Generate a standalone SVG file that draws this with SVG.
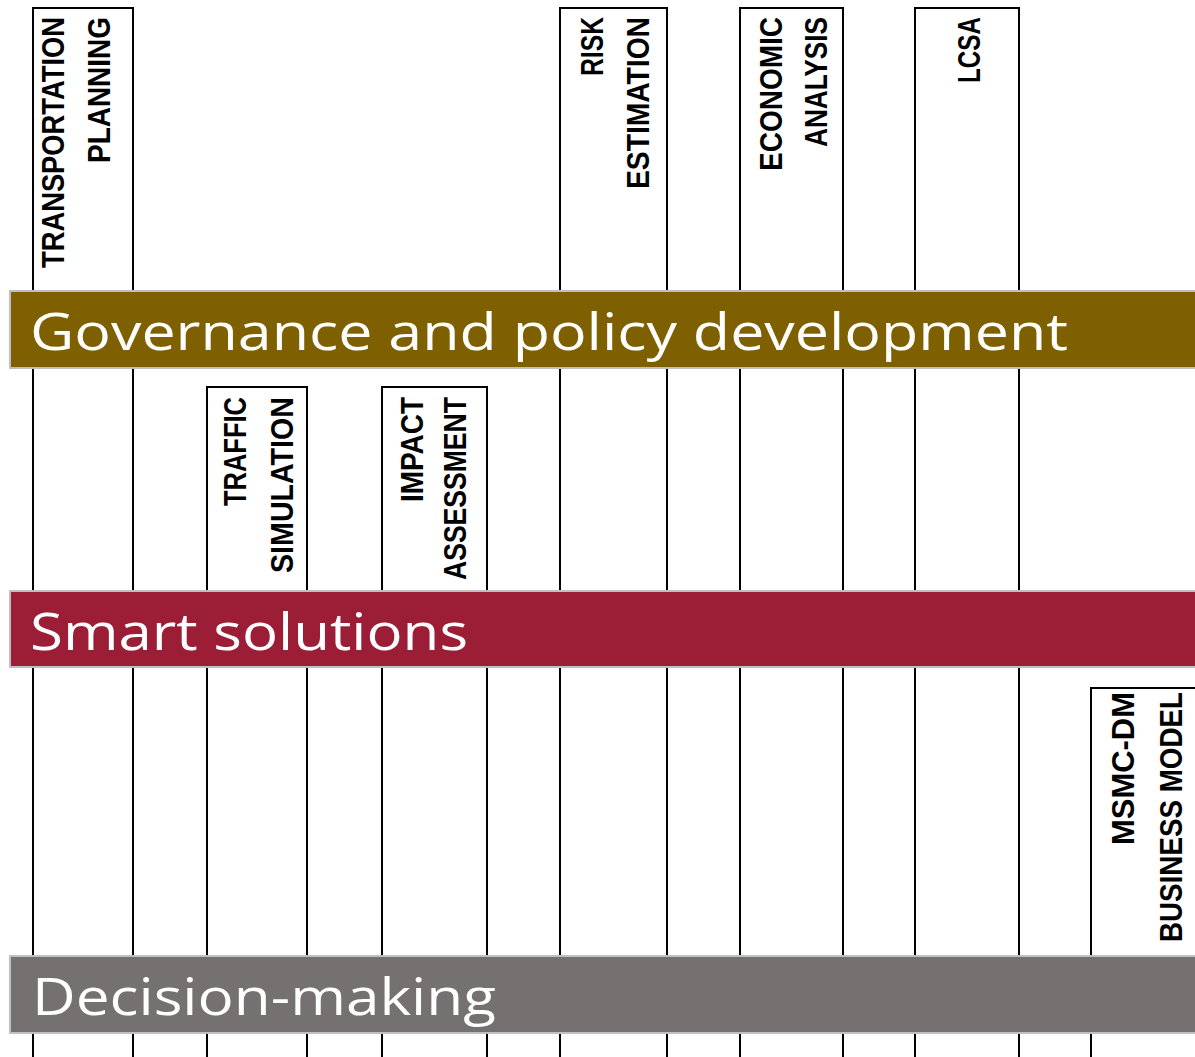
<svg xmlns="http://www.w3.org/2000/svg" width="1195" height="1057" viewBox="0 0 1195 1057">
<style>
.box{fill:#fff;stroke:#000;stroke-width:2}
.lbl{font-family:"Liberation Sans",Arial,sans-serif;font-weight:700;font-size:31px;fill:#000;text-anchor:end}
.bar{stroke:#c0c0c0;stroke-width:2}
.btxt{font-family:"Open Sans","Liberation Sans",sans-serif;font-size:52px;fill:#fff}
</style>
<rect width="1195" height="1057" fill="#fff"/>
<g id="node-transportation-planning">
<rect class="box" x="33" y="8" width="100" height="1070"/>
<text class="lbl" transform="translate(64,17) rotate(-90)" textLength="251" lengthAdjust="spacingAndGlyphs">TRANSPORTATION</text>
<text class="lbl" transform="translate(110,17) rotate(-90)" textLength="146" lengthAdjust="spacingAndGlyphs">PLANNING</text>
</g>
<g id="node-traffic-simulation">
<rect class="box" x="207" y="387" width="100" height="700"/>
<text class="lbl" transform="translate(246,397) rotate(-90)" textLength="109" lengthAdjust="spacingAndGlyphs">TRAFFIC</text>
<text class="lbl" transform="translate(293,397) rotate(-90)" textLength="176" lengthAdjust="spacingAndGlyphs">SIMULATION</text>
</g>
<g id="node-impact-assessment">
<rect class="box" x="382" y="387" width="105" height="700"/>
<text class="lbl" transform="translate(423,397) rotate(-90)" textLength="105" lengthAdjust="spacingAndGlyphs">IMPACT</text>
<text class="lbl" transform="translate(466,397) rotate(-90)" textLength="183" lengthAdjust="spacingAndGlyphs">ASSESSMENT</text>
</g>
<g id="node-risk-estimation">
<rect class="box" x="560" y="8" width="107" height="1070"/>
<text class="lbl" transform="translate(603,17) rotate(-90)" textLength="59" lengthAdjust="spacingAndGlyphs">RISK</text>
<text class="lbl" transform="translate(649,17) rotate(-90)" textLength="172" lengthAdjust="spacingAndGlyphs">ESTIMATION</text>
</g>
<g id="node-economic-analysis">
<rect class="box" x="740" y="8" width="103" height="1070"/>
<text class="lbl" transform="translate(782,17) rotate(-90)" textLength="154" lengthAdjust="spacingAndGlyphs">ECONOMIC</text>
<text class="lbl" transform="translate(827,17) rotate(-90)" textLength="130" lengthAdjust="spacingAndGlyphs">ANALYSIS</text>
</g>
<g id="node-lcsa">
<rect class="box" x="915" y="8" width="104" height="1070"/>
<text class="lbl" transform="translate(980,17) rotate(-90)" textLength="66" lengthAdjust="spacingAndGlyphs">LCSA</text>
</g>
<g id="node-msmc-dm-business-model">
<rect class="box" x="1091" y="688" width="200" height="400"/>
<text class="lbl" transform="translate(1134,692) rotate(-90)" textLength="153" lengthAdjust="spacingAndGlyphs">MSMC-DM</text>
<text class="lbl" transform="translate(1182,692) rotate(-90)" textLength="250" lengthAdjust="spacingAndGlyphs">BUSINESS MODEL</text>
</g>
<g id="bar-governance">
<rect class="bar" x="10" y="291" width="1200" height="77" fill="#7f6000"/>
<text class="btxt" x="30" y="350" textLength="1038" lengthAdjust="spacingAndGlyphs">Governance and policy development</text>
</g>
<g id="bar-smart-solutions">
<rect class="bar" x="10" y="591" width="1200" height="76" fill="#9b1d36"/>
<text class="btxt" x="30" y="650" textLength="438" lengthAdjust="spacingAndGlyphs">Smart solutions</text>
</g>
<g id="bar-decision-making">
<rect class="bar" x="10" y="956" width="1200" height="77" fill="#757170"/>
<text class="btxt" x="32" y="1015" textLength="464" lengthAdjust="spacingAndGlyphs">Decision-making</text>
</g>
</svg>
